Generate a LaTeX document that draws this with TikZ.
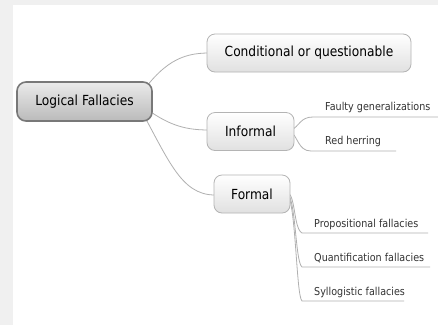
\documentclass[tikz,border=0pt]{standalone}
\usepackage{fontspec}
\setmainfont{DejaVu Sans}[FakeStretch=0.88]
\definecolor{bggray}{HTML}{F0F0F0}
\definecolor{linegray}{HTML}{B0B0B0}
\definecolor{boxborder}{HTML}{B4B4B4}
\definecolor{rootborder}{HTML}{787878}
\definecolor{leaftext}{HTML}{333333}
\tikzset{
  topicbox/.style={draw=boxborder, line width=0.8pt, rounded corners=8pt, top color=white, bottom color=black!12, text=black, font=\fontsize{13.9}{16}\selectfont, inner sep=0pt},
  rootbox/.style={draw=rootborder, line width=1.6pt, rounded corners=9pt, top color=black!8, bottom color=black!27, text=black, font=\fontsize{13.9}{16}\selectfont, inner sep=0pt},
  conn/.style={draw=linegray, line width=0.8pt},
  leaf/.style={anchor=base west, text=leaftext, font=\fontsize{10.9}{13}\selectfont, inner sep=0pt},
}
\begin{document}
\begin{tikzpicture}[x=1pt,y=-1pt]
\useasboundingbox (0,0) rectangle (438,325);
\fill[bggray] (0,0) rectangle (438,325);
\fill[white] (13,5) rectangle (438,325);
% anchor coordinates
\coordinate (rc) at (136,101);
\coordinate (fo) at (286,192);
\coordinate (io) at (290,131);
% connectors from root
\draw[conn] (rc) .. controls (162,62) and (182,53) .. (209,53);
\draw[conn] (rc) .. controls (165,124) and (182,130) .. (209,130);
\draw[conn] (rc) .. controls (168,158) and (180,195) .. (215,195);
% informal leaves
\coordinate (fg1) at (313,117);
\coordinate (fg2) at (438,117);
\coordinate (rh1) at (311,151);
\coordinate (rh2) at (396,151);
\draw[conn] (io) .. controls (300,126) and (300,117) .. (fg1) -- (fg2);
\draw[conn] (io) .. controls (298,136) and (298,151) .. (rh1) -- (rh2);
% formal leaves
\coordinate (pf1) at (302,233);
\coordinate (pf2) at (428,233);
\coordinate (qf1) at (302,267);
\coordinate (qf2) at (430,267);
\coordinate (sf1) at (302,301);
\coordinate (sf2) at (404,301);
\draw[conn] (fo) .. controls (296,192) and (293,228) .. (pf1) -- (pf2);
\draw[conn] (fo) .. controls (296,194) and (295,262) .. (qf1) -- (qf2);
\draw[conn] (fo) .. controls (296,196) and (296,296) .. (sf1) -- (sf2);
% nodes
\node[rootbox, minimum width=135pt, minimum height=39pt] (root) at (84.5,101.5) {Logical Fallacies};
\node[topicbox, minimum width=204pt, minimum height=38pt] (cond) at (309,53) {Conditional or questionable};
\node[topicbox, minimum width=87pt, minimum height=38pt] (inf) at (250.5,131.5) {Informal};
\node[topicbox, minimum width=76pt, minimum height=38pt] (formal) at (252,194) {Formal};
\node[leaf] (faulty) at (325,110) {Faulty generalizations};
\node[leaf] (red) at (325,144) {Red herring};
\node[leaf] (prop) at (314,227) {Propositional fallacies};
\node[leaf] (quant) at (314,261) {Quantification fallacies};
\node[leaf] (syll) at (314,295) {Syllogistic fallacies};
\end{tikzpicture}
\end{document}
